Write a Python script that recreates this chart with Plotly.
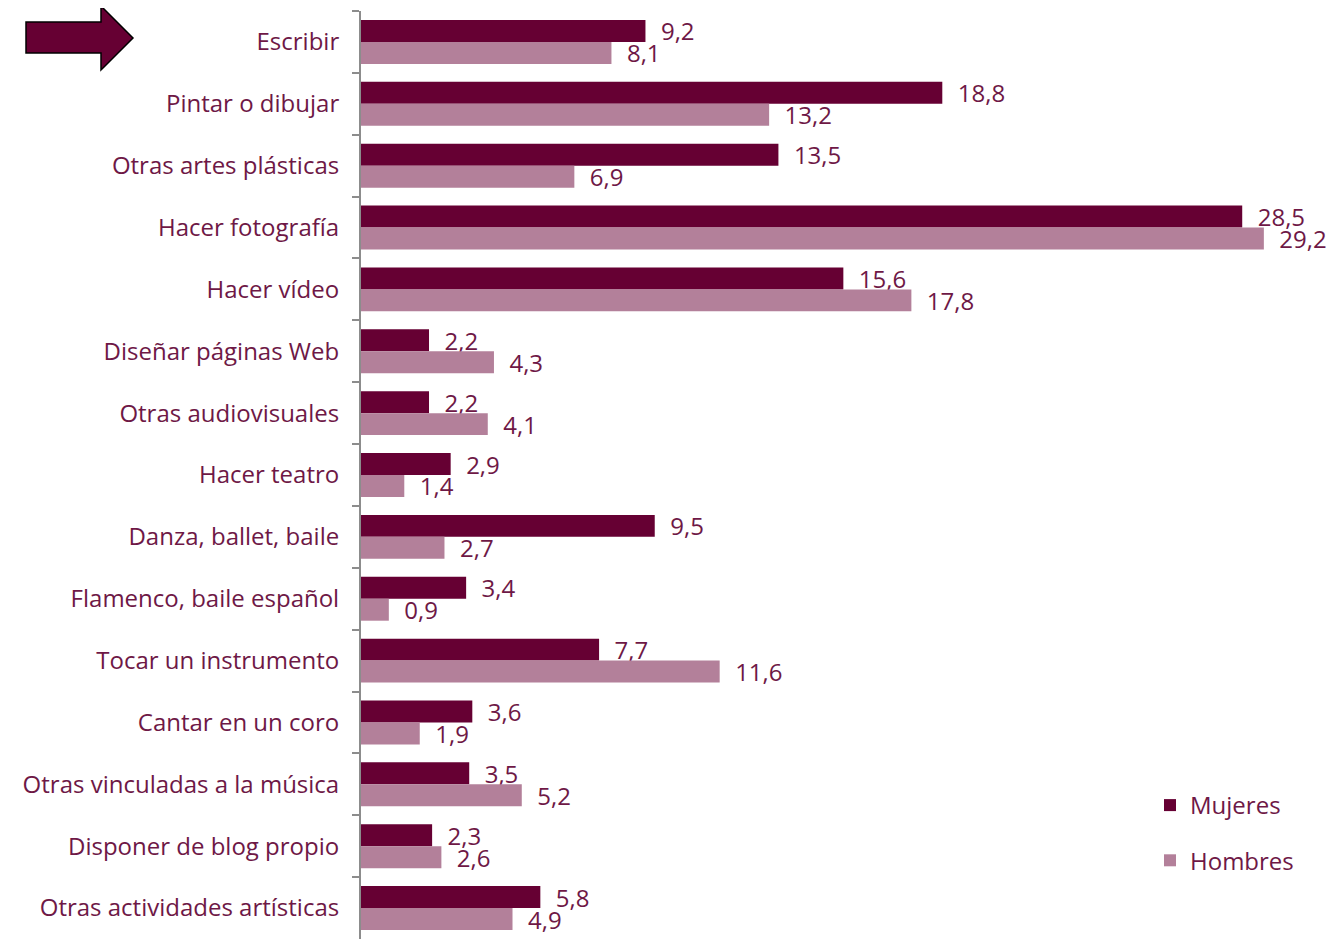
import plotly.graph_objects as go

categorias = ["Escribir", "Pintar o dibujar", "Otras artes plásticas", "Hacer fotografía",
              "Hacer vídeo", "Diseñar páginas Web", "Otras audiovisuales", "Hacer teatro",
              "Danza, ballet, baile", "Flamenco, baile español", "Tocar un instrumento",
              "Cantar en un coro", "Otras vinculadas a la música", "Disponer de blog propio",
              "Otras actividades artísticas"]
mujeres = [9.2, 18.8, 13.5, 28.5, 15.6, 2.2, 2.2, 2.9, 9.5, 3.4, 7.7, 3.6, 3.5, 2.3, 5.8]
hombres = [8.1, 13.2, 6.9, 29.2, 17.8, 4.3, 4.1, 1.4, 2.7, 0.9, 11.6, 1.9, 5.2, 2.6, 4.9]

# the page has an 8px body margin, so the figure is a bit smaller than the window
OFF = 8
W, H = 1334 - 2 * OFF, 939 - OFF
ML, MR, MT, MB = 361 - OFF, 34, 11 - OFF, 0
XMAX = (W - ML - MR) / 30.92

COL_M = "#660033"
COL_H = "#b3809a"
TXT = "#6e1846"
FONT = "Open Sans"
FS = 24


def fmt(v):
    return "\u00a0\u00a0" + f"{v:.1f}".replace(".", ",")


fig = go.Figure()
fig.add_trace(go.Bar(y=categorias, x=mujeres, name="Mujeres", orientation="h",
                     marker=dict(color=COL_M, line=dict(width=0)),
                     text=[fmt(v) for v in mujeres], textposition="outside",
                     legendgroup="m"))
fig.add_trace(go.Bar(y=categorias, x=hombres, name="Hombres", orientation="h",
                     marker=dict(color=COL_H, line=dict(width=0)),
                     text=[fmt(v) for v in hombres], textposition="outside",
                     legendgroup="h"))
fig.update_traces(textfont=dict(family=FONT, size=FS, color=TXT), cliponaxis=False,
                  constraintext="none")

# page pixel -> paper coords
def px(x):
    return (x - OFF - ML) / (W - ML - MR)

def py(y):
    return 1 - (y - OFF - MT) / (H - MT - MB)

# flecha a la izquierda
pts = [(26, 22), (101, 22), (101, 6), (133, 38), (101, 70), (101, 53), (26, 53)]
path = "M " + " L ".join(f"{px(x)},{py(y)}" for x, y in pts) + " Z"
fig.add_shape(type="path", path=path, xref="paper", yref="paper",
              fillcolor=COL_M, line=dict(color="black", width=1.5))

fig.update_layout(
    width=W, height=H,
    margin=dict(l=ML, r=MR, t=MT, b=MB, autoexpand=False),
    plot_bgcolor="white", paper_bgcolor="white",
    barmode="group", bargap=0.29, bargroupgap=0,
    font=dict(family=FONT, size=FS, color=TXT),
    xaxis=dict(range=[0, XMAX], visible=False),
    yaxis=dict(autorange="reversed", showline=True, linecolor="#8c8c8c", linewidth=2,
               ticks="outside", ticklen=7, tickcolor="#8c8c8c", tickwidth=2,
               tickson="boundaries", ticklabelstandoff=15, automargin=False,
               tickfont=dict(family=FONT, size=FS, color=TXT)),
    legend=dict(x=px(1150), y=py(783), xanchor="left", yanchor="top",
                traceorder="grouped", tracegroupgap=21,
                font=dict(family=FONT, size=FS, color=TXT),
                bgcolor="rgba(0,0,0,0)"),
)

fig.write_html("out.html")
